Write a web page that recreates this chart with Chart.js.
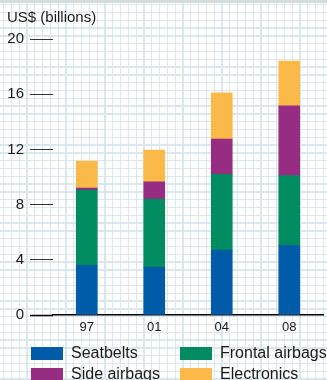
<!DOCTYPE html>
<html>
<head>
<meta charset="utf-8">
<script src="https://cdn.jsdelivr.net/npm/chart.js@4/dist/chart.umd.min.js"></script>
<style>
  html, body { margin: 0; padding: 0; }
  body {
    width: 327px; height: 380px; overflow: hidden;
    background-color: #ffffff;
    background-image:
      linear-gradient(to bottom, #d6dbde 0, #d6dbde 3px, transparent 3px),
      repeating-linear-gradient(to right, transparent 0, transparent 3px, #dbe7ee 3px, #dbe7ee 4.3px, transparent 4.3px, transparent 7.8px),
      repeating-linear-gradient(to bottom, transparent 0, transparent 4px, #dbe7ee 4px, #dbe7ee 5.3px, transparent 5.3px, transparent 7.8px);
  }
  #wrap { position: absolute; left: 0; top: 0; width: 327px; height: 380px; }
</style>
</head>
<body>
<div id="wrap"><canvas id="c" width="327" height="380"></canvas></div>
<script>
// Automotive safety market, US$ billions
const years = ['97', '01', '04', '08'];
const seatbelts   = [3.6, 3.45, 4.7, 5.05];
const frontal     = [5.45, 4.95, 5.5, 5.05];
const sideAirbags = [0.15, 1.25, 2.55, 5.05];
const electronics = [1.95, 2.3, 3.35, 3.25];
const yTicks = [0, 4, 8, 12, 16, 20];

const FONT = '"Liberation Sans", Arial, Helvetica, sans-serif';

// Title and two-column legend drawn on the canvas
const decorations = {
  id: 'decorations',
  afterDraw(chart) {
    const ctx = chart.ctx;
    ctx.save();
    ctx.fillStyle = '#1a1a1a';
    ctx.font = '15px ' + FONT;
    ctx.textBaseline = 'middle';
    ctx.textAlign = 'left';
    ctx.fillText('US$ (billions)', 7, 18);

    const cols = [31, 180];
    const rows = [347, 368];
    ctx.font = '16px ' + FONT;
    chart.data.datasets.forEach((ds, i) => {
      const x = cols[i % 2];
      const y = rows[Math.floor(i / 2)];
      ctx.fillStyle = ds.backgroundColor;
      ctx.fillRect(x, y, 32, 13);
      ctx.fillStyle = '#1a1a1a';
      ctx.fillText(ds.label, x + 40, y + 7);
    });
    ctx.restore();
  }
};

new Chart(document.getElementById('c'), {
  type: 'bar',
  data: {
    labels: years,
    datasets: [
      { label: 'Seatbelts',       data: seatbelts,   backgroundColor: '#005ba9' },
      { label: 'Frontal airbags', data: frontal,     backgroundColor: '#008c60' },
      { label: 'Side airbags',    data: sideAirbags, backgroundColor: '#962d82' },
      { label: 'Electronics',     data: electronics, backgroundColor: '#fbb948' }
    ]
  },
  options: {
    responsive: false,
    animation: false,
    layout: { padding: { top: 39, right: 4, left: 0, bottom: 0 } },
    datasets: { bar: { barThickness: 21, borderWidth: 0 } },
    plugins: { legend: { display: false }, tooltip: { enabled: false }, title: { display: false } },
    scales: {
      x: {
        stacked: true,
        offset: true,
        grid: { display: false, drawTicks: false },
        border: { display: true, color: '#000', width: 1.5 },
        ticks: { color: '#1a1a1a', font: { family: FONT, size: 13 }, padding: 5 },
        afterFit(scale) { scale.height = 65; }
      },
      y: {
        stacked: true,
        min: 0,
        max: 20,
        afterBuildTicks(scale) { scale.ticks = yTicks.map(v => ({ value: v })); },
        grid: {
          drawOnChartArea: false,
          drawTicks: true,
          tickLength: 23,
          tickColor: ctx => (ctx.tick && ctx.tick.value === 0 ? '#000' : '#333'),
          tickWidth: ctx => (ctx.tick && ctx.tick.value === 0 ? 1.5 : 1)
        },
        border: { display: false },
        ticks: { color: '#1a1a1a', font: { family: FONT, size: 15 }, padding: 6 },
        afterFit(scale) { scale.width = 53; }
      }
    }
  },
  plugins: [decorations]
});
</script>
</body>
</html>
